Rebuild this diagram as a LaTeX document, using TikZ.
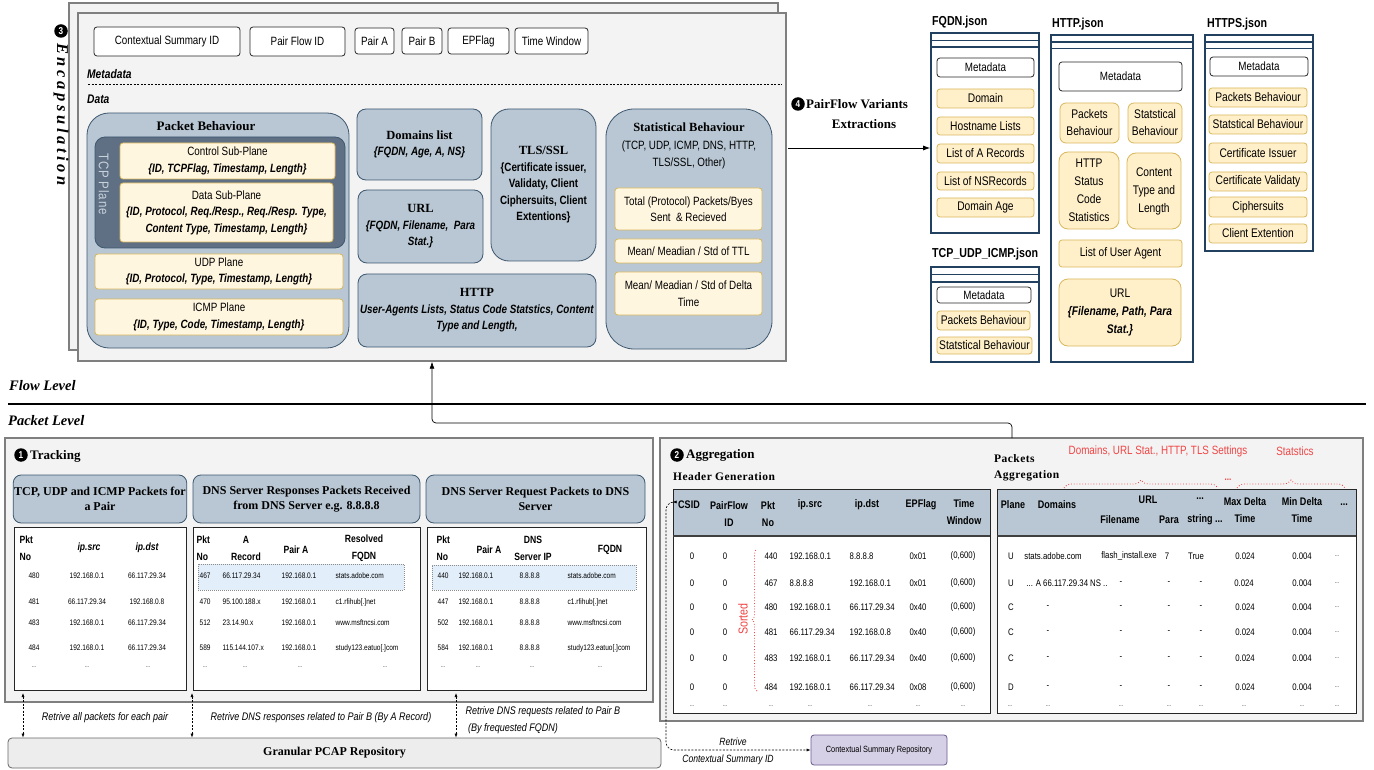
\documentclass[tikz,border=0pt]{standalone}
\usepackage{fontspec}
\setmainfont{Liberation Serif}
\setsansfont{Liberation Sans}[FakeStretch=0.82]
\usetikzlibrary{arrows.meta,decorations.pathreplacing}
\definecolor{panelF}{HTML}{F3F3F3}
\definecolor{panelD}{HTML}{7F7F7F}
\definecolor{blueF}{HTML}{B8C7D3}
\definecolor{blueD}{HTML}{3E5870}
\definecolor{tcpF}{HTML}{5F7084}
\definecolor{tcpT}{HTML}{C9D1DC}
\definecolor{yelF}{HTML}{FFF6E0}
\definecolor{yelD}{HTML}{D9B75B}
\definecolor{yelG}{HTML}{FFF0CA}
\definecolor{jsonD}{HTML}{22405F}
\definecolor{csrF}{HTML}{D6D0E6}
\definecolor{csrD}{HTML}{6B5B8F}
\definecolor{hlF}{HTML}{E2EEFA}
\definecolor{redT}{HTML}{F04545}
\definecolor{granF}{HTML}{EDEDED}
\newcommand\BI[1]{\textbf{\textit{#1}}}
\newcommand\HD[1]{{\rmfamily\bfseries #1}}
\newcommand\FS[2]{\fontsize{#1}{#2}\selectfont}
\newcommand\Bx[8][]{%
  \pgfmathsetmacro\bxw{#6-#4}%
  \pgfmathsetmacro\bxh{#7-#5}%
  \node[#2, minimum width=\bxw pt, minimum height=\bxh pt, #1] (#3) at ({(#4+#6)/2},{(#5+#7)/2}) {#8};%
}
\tikzset{
  base/.style={font=\sffamily\FS{12}{16.5}, align=center, inner sep=1pt},
  panel/.style={draw=panelD, fill=panelF, line width=1.4pt},
  mbox/.style={base, draw=black!85, fill=white, rounded corners=3pt, line width=0.8pt},
  bluebox/.style={base, draw=blueD, fill=blueF, rounded corners=9pt, line width=0.8pt},
  ybox/.style={base, draw=yelD, fill=yelF, rounded corners=3pt, line width=0.8pt},
  jy/.style={base, font=\sffamily\FS{12.5}{17}, draw=yelD, fill=yelG, rounded corners=3pt, line width=0.8pt},
  jbox/.style={draw=jsonD, fill=white, line width=1.6pt},
  tbl/.style={draw=black!85, fill=white, line width=0.9pt},
  hdr/.style={font=\rmfamily\bfseries\FS{12}{15}, align=center, inner sep=1pt},
  th/.style={font=\sffamily\bfseries\FS{10.5}{17}, align=center, inner sep=0.5pt},
  td/.style={font=\sffamily\FS{8}{10}, inner sep=0.5pt},
  ah/.style={font=\sffamily\bfseries\FS{11}{17}, align=center, inner sep=0.5pt},
  ad/.style={font=\sffamily\FS{9.5}{11}, inner sep=0.5pt},
  num/.style={circle, fill=black, text=white, font=\sffamily\bfseries\FS{10}{10}, inner sep=0pt, minimum size=13.5pt},
  lbl/.style={font=\sffamily\bfseries\itshape\FS{12.5}{14}, anchor=west, inner sep=0pt},
  note/.style={font=\sffamily\itshape\FS{11}{16}, inner sep=0.5pt},
  rnote/.style={font=\sffamily\FS{12}{14}, text=redT, inner sep=0.5pt},
  arr/.style={-{Latex[length=7pt,width=5pt]}, line width=0.8pt},
  hl/.style={fill=hlF, draw=black!45, dash pattern=on 1pt off 1pt, line width=0.5pt},
}
\begin{document}
\begin{tikzpicture}[x=1pt,y=-1pt]
\useasboundingbox (0,0) rectangle (1374,770);

% ===== Encapsulation panel =====
\Bx{panel}{backP}{69}{3}{778}{350}{}
\Bx{panel}{front}{78}{13}{786}{361}{}
\node[num] (n3) at (61,31) {3};
\node[rotate=-90, anchor=west, font=\rmfamily\bfseries\itshape\FS{16.5}{16}\addfontfeature{LetterSpace=22}, inner sep=0pt] (encL) at (61,43) {Encapsulation};

\Bx{mbox}{m1}{94}{27}{240}{56}{Contextual Summary ID}
\Bx{mbox}{m2}{250}{27}{345}{56}{Pair Flow ID}
\Bx{mbox}{m3}{355}{28}{394}{54}{Pair A}
\Bx{mbox}{m4}{402}{28}{442}{54}{Pair B}
\Bx{mbox}{m5}{448}{28}{509}{54}{EPFlag}
\Bx{mbox}{m6}{515}{28}{588}{54}{Time Window}
\node[lbl] (mdL) at (87,74) {Metadata};
\coordinate (ds1) at (88,84);
\coordinate (ds2) at (782,84);
\draw[dash pattern=on 2pt off 1.5pt, line width=0.8pt] (ds1) -- (ds2);
\node[lbl] (dtL) at (87,99) {Data};

% Packet behaviour
\Bx{bluebox, rounded corners=22pt}{pb}{87}{113}{349}{348}{}
\node[hdr, font=\rmfamily\bfseries\FS{13}{15}] (pbT) at (206,126) {Packet Behaviour};
\Bx{bluebox, fill=tcpF, rounded corners=10pt}{tcpP}{95}{137}{345}{248}{}
\node[rotate=-90, text=tcpT, font=\sffamily\FS{14}{14}\addfontfeature{LetterSpace=6}, inner sep=0pt] (tcpL) at (104,184) {TCP Plane};
\Bx{ybox}{csp}{120}{143}{335}{179}{Control Sub-Plane\\ \BI{\{ID, TCPFlag, Timestamp, Length\}}}
\Bx{ybox}{dsp}{120}{183}{333}{242}{Data Sub-Plane\\ \BI{\{ID, Protocol, Req./Resp., Req./Resp. Type,}\\ \BI{Content Type, Timestamp, Length\}}}
\Bx{ybox}{udp}{95}{254}{343}{289}{UDP Plane\\ \BI{\{ID, Protocol, Type, Timestamp, Length\}}}
\Bx{ybox}{icmp}{95}{299}{343}{335}{ICMP Plane\\ \BI{\{ID, Type, Code, Timestamp, Length\}}}

% Middle
\Bx{bluebox}{dom}{357}{109}{482}{180}{\HD{\FS{12.5}{16.5}Domains list}\\ \BI{\{FQDN, Age, A, NS\}}}
\Bx{bluebox}{url}{358}{190}{483}{263}{\HD{\FS{12.5}{16.5}URL}\\ \BI{\{FQDN, Filename,\ \ Para}\\ \BI{Stat.\}}}
\Bx{bluebox, rounded corners=18pt}{tls}{491}{109}{596}{261}{\HD{\FS{12.5}{16.5}TLS/SSL}\\ \textbf{\{Certificate issuer,}\\ \textbf{Validaty, Client}\\ \textbf{Ciphersuits, Client}\\ \textbf{Extentions\}}}
\Bx{bluebox}{http}{358}{274}{596}{347}{\HD{\FS{12.5}{16.5}HTTP}\\ \BI{User-Agents Lists, Status Code Statstics, Content}\\ \BI{Type and Length,}}
\Bx{bluebox, rounded corners=28pt}{stat}{606}{109}{772}{349}{}
\node[base, font=\sffamily\FS{12}{17.5}] (stT) at (689,146) {\HD{\FS{12.5}{17.5}Statistical Behaviour}\\(TCP, UDP, ICMP, DNS, HTTP,\\TLS/SSL, Other)};
\Bx{ybox}{st1}{615}{188}{762}{230}{Total (Protocol) Packets/Byes\\ Sent \ \& Recieved}
\Bx{ybox}{st2}{615}{239}{762}{263}{Mean/ Meadian / Std of TTL}
\Bx{ybox}{st3}{615}{272}{762}{315}{Mean/ Meadian / Std of Delta\\ Time}

% ===== Step 4 arrow =====
\coordinate (a4) at (788,148);
\node[num] (n4) at (798,104) {4};
\node[hdr, font=\rmfamily\bfseries\FS{13}{15}, anchor=west] (v4a) at (805,104) {PairFlow Variants};
\node[hdr, font=\rmfamily\bfseries\FS{13}{15}] (v4b) at (864,124) {Extractions};

% ===== JSON files =====
\node[font=\sffamily\bfseries\FS{13}{14}, anchor=west, inner sep=0pt] (fqT) at (932,22) {FQDN.json};
\Bx{jbox}{fq}{931}{33}{1039}{233}{}
\draw[jsonD, line width=1.6pt] (931,40.5) -- (1039,40.5) (931,47) -- (1039,47);
\Bx{mbox}{fq0}{937}{58}{1034}{77}{Metadata}
\Bx{jy}{fq1}{937}{89}{1034}{108}{Domain}
\Bx{jy}{fq2}{937}{117}{1034}{135}{Hostname Lists}
\Bx{jy}{fq3}{937}{144}{1034}{163}{List of A Records}
\Bx{jy}{fq4}{937}{172}{1034}{190}{List of NSRecords}
\Bx{jy}{fq5}{937}{198}{1034}{217}{Domain Age}
\draw[arr] (a4) -- (a4 -| fq.west);

\node[font=\sffamily\bfseries\FS{13}{14}, anchor=west, inner sep=0pt] (tuT) at (932,254) {TCP\_UDP\_ICMP.json};
\Bx{jbox}{tu}{931}{267}{1039}{362}{}
\draw[jsonD, line width=1.6pt] (931,274.5) -- (1039,274.5) (931,282) -- (1039,282);
\Bx{mbox}{tu0}{937}{287}{1031}{303}{Metadata}
\Bx{jy}{tu1}{937}{311}{1030}{330}{Packets Behaviour}
\Bx{jy}{tu2}{937}{337}{1032}{354}{Statstical Behaviour}

\node[font=\sffamily\bfseries\FS{13}{14}, anchor=west, inner sep=0pt] (htT) at (1052,24) {HTTP.json};
\Bx{jbox}{ht}{1051}{35}{1193}{362}{}
\draw[jsonD, line width=1.6pt] (1051,42) -- (1193,42) (1051,48.5) -- (1193,48.5);
\Bx{mbox}{ht0}{1059}{62}{1182}{91}{Metadata}
\Bx{jy, rounded corners=6pt}{ht1}{1060}{103}{1119}{143}{Packets\\Behaviour}
\Bx{jy, rounded corners=6pt}{ht2}{1128}{103}{1182}{143}{Statstical\\Behaviour}
\Bx{jy, rounded corners=9pt, font=\sffamily\FS{12.5}{18}}{ht3}{1059}{152}{1119}{229}{HTTP\\Status\\Code\\Statistics}
\Bx{jy, rounded corners=9pt, font=\sffamily\FS{12.5}{18}}{ht4}{1127}{153}{1181}{229}{Content\\Type and\\Length}
\Bx{jy}{ht5}{1059}{240}{1182}{267}{List of User Agent}
\Bx{jy, rounded corners=9pt, font=\sffamily\FS{12.5}{18}}{ht6}{1059}{279}{1181}{346}{URL\\ \BI{\{Filename, Path, Para}\\ \BI{Stat.\}}}

\node[font=\sffamily\bfseries\FS{13}{14}, anchor=west, inner sep=0pt] (hsT) at (1207,24) {HTTPS.json};
\Bx{jbox}{hs}{1205}{35}{1313}{251}{}
\draw[jsonD, line width=1.6pt] (1205,42) -- (1313,42) (1205,48.5) -- (1313,48.5);
\Bx{mbox}{hs0}{1210}{57}{1308}{76}{Metadata}
\Bx{jy}{hs1}{1209}{88}{1307}{107}{Packets Behaviour}
\Bx{jy}{hs2}{1209}{115}{1307}{134}{Statstical Behaviour}
\Bx{jy}{hs3}{1209}{143}{1307}{163}{Certificate Issuer}
\Bx{jy}{hs4}{1209}{172}{1307}{191}{Certificate Validaty}
\Bx{jy}{hs5}{1209}{197}{1307}{217}{Ciphersuits}
\Bx{jy}{hs6}{1209}{224}{1307}{243}{Client Extention}

% ===== Levels =====
\node[font=\rmfamily\bfseries\itshape\FS{14.5}{16}, anchor=west, inner sep=0pt] (flowL) at (9,386) {Flow Level};
\coordinate (lv1) at (8,404);
\coordinate (lv2) at (1366,404);
\draw[line width=1.3pt] (lv1) -- (lv2);
\node[font=\rmfamily\bfseries\itshape\FS{14.5}{16}, anchor=west, inner sep=0pt] (pktL) at (8,421) {Packet Level};

% ===== Tracking =====
\Bx{panel}{trk}{5}{438}{653}{702}{}
\node[num] (n1) at (21,455) {1};
\node[hdr, font=\rmfamily\bfseries\FS{13}{15}, anchor=west] (trkT) at (29,456) {Tracking};
\Bx{bluebox, hdr, rounded corners=8pt}{h1}{14}{475}{186}{523}{TCP, UDP and ICMP Packets for\\a Pair}
\Bx{bluebox, hdr, rounded corners=8pt}{h2}{193}{475}{420}{523}{DNS Server Responses Packets Received\\from DNS Server e.g. 8.8.8.8}
\Bx{bluebox, hdr, rounded corners=8pt}{h3}{426}{475}{645}{523}{DNS Server Request Packets to DNS\\Server}

% table 1
\Bx{tbl}{t1}{14}{527}{186}{690}{}
\node[th, anchor=west, align=left] (t1h1) at (19,548) {Pkt\\No};
\node[th, font=\sffamily\bfseries\itshape\FS{10.5}{12}] (t1h2) at (89,548) {ip.src};
\node[th, font=\sffamily\bfseries\itshape\FS{10.5}{12}] (t1h3) at (147,548) {ip.dst};
\foreach \r/\yy/\a/\b/\c in {1/576/480/192.168.0.1/66.117.29.34, 2/602/481/66.117.29.34/192.168.0.8, 3/623/483/192.168.0.1/66.117.29.34, 4/648/484/192.168.0.1/66.117.29.34}{
  \node[td] (t1-\r-1) at (34,\yy) {\a};
  \node[td] (t1-\r-2) at (87,\yy) {\b};
  \node[td] (t1-\r-3) at (147,\yy) {\c};
}
\foreach \xx [count=\i] in {34,87,148}{\node[td, font=\sffamily\FS{6}{6}] (t1-5-\i) at (\xx,667) {...};}

% table 2
\Bx{tbl}{t2}{193}{527}{420}{690}{}
\Bx{hl}{t2hl}{198}{564}{404}{590}{}
\node[th, anchor=west, align=left] (t2h1) at (196,548) {Pkt\\No};
\node[th] (t2h2) at (246,548) {A\\Record};
\node[th] (t2h3) at (296,550) {Pair A};
\node[th] (t2h4) at (364,548) {Resolved\\FQDN};
\foreach \r/\yy/\a/\b/\c in {1/576/467/66.117.29.34/stats.adobe.com, 2/602/470/95.100.188.x/c1.rfihub[.]net, 3/623/512/23.14.90.x/www.msftncsi.com, 4/648/589/115.144.107.x/study123.eatuo[.]com}{
  \node[td, anchor=west] (t2-\r-1) at (199,\yy) {\a};
  \node[td, anchor=west] (t2-\r-2) at (222,\yy) {\b};
  \node[td, anchor=west] (t2-\r-3) at (281,\yy) {192.168.0.1};
  \node[td, anchor=west] (t2-\r-4) at (335,\yy) {\c};
}
\foreach \xx [count=\i] in {205,245,300,385}{\node[td, font=\sffamily\FS{6}{6}] (t2-5-\i) at (\xx,667) {...};}

% table 3
\Bx{tbl}{t3}{427}{527}{646}{690}{}
\Bx{hl}{t3hl}{432}{565}{636}{590}{}
\node[th, anchor=west, align=left] (t3h1) at (436,548) {Pkt\\No};
\node[th] (t3h2) at (489,550) {Pair A};
\node[th] (t3h3) at (533,548) {DNS\\Server IP};
\node[th] (t3h4) at (610,550) {FQDN};
\foreach \r/\yy/\a/\c in {1/576/440/stats.adobe.com, 2/602/447/c1.rfihub[.]net, 3/623/502/www.msftncsi.com, 4/648/584/study123.eatuo[.]com}{
  \node[td, anchor=west] (t3-\r-1) at (437,\yy) {\a};
  \node[td, anchor=west] (t3-\r-2) at (458,\yy) {192.168.0.1};
  \node[td, anchor=west] (t3-\r-3) at (519,\yy) {8.8.8.8};
  \node[td, anchor=west] (t3-\r-4) at (567,\yy) {\c};
}
\foreach \xx [count=\i] in {443,478,532,600}{\node[td, font=\sffamily\FS{6}{6}] (t3-5-\i) at (\xx,667) {...};}

% ===== Repository =====
\Bx{hdr, draw=black!60, fill=granF, rounded corners=4pt, line width=0.8pt}{gpr}{8}{738}{661}{768}{Granular PCAP Repository}
\foreach \xx [count=\i] in {23,192,456}{
  \coordinate (dA\i) at (\xx,693);
  \draw[dash pattern=on 2pt off 1.5pt, line width=0.6pt, {Latex[length=4pt,width=3pt]}-{Latex[length=4pt,width=3pt]}] (dA\i) -- (dA\i |- gpr.north);
}
\node[note] (r1) at (105,718) {Retrive all packets for each pair};
\node[note] (r2) at (321,718) {Retrive DNS responses related to Pair B (By A Record)};
\node[note, anchor=west, align=left, font=\sffamily\itshape\FS{11}{17}] (r3) at (465,720) {Retrive DNS requests related to Pair B\\ \ (By frequested FQDN)};

% ===== Aggregation =====
\Bx{panel}{agg}{660}{438}{1363}{721}{}
\node[num] (n2) at (677,455) {2};
\node[hdr, font=\rmfamily\bfseries\FS{13}{15}, anchor=west] (aggT) at (685,455) {Aggregation};
\node[hdr, font=\rmfamily\bfseries\FS{11.5}{14}\addfontfeature{LetterSpace=4}, anchor=west] (hgL) at (672,477) {Header Generation};
\node[hdr, font=\rmfamily\bfseries\FS{11.5}{16}\addfontfeature{LetterSpace=4}, anchor=west, align=left] (paL) at (993,468) {Packets\\Aggregation};

% header generation table
\Bx{tbl}{hg}{673}{489}{990}{713}{}
\fill[blueF] (673,489) rectangle (990,536);
\draw[line width=0.9pt, black!85] (673,489) rectangle (990,713);
\draw[line width=1.2pt, black!75] (673,536) -- (990,536);
\node[ah] (hgh1) at (689,505) {CSID};
\node[ah] (hgh2) at (729,514) {PairFlow\\ID};
\node[ah] (hgh3) at (768,514) {Pkt\\No};
\node[ah] (hgh4) at (810,505) {ip.src};
\node[ah] (hgh5) at (867,505) {ip.dst};
\node[ah] (hgh6) at (921,505) {EPFlag};
\node[ah] (hgh7) at (964,512) {Time\\Window};
\foreach \r/\yy/\p/\s/\d/\f in {1/556/440/192.168.0.1/8.8.8.8/0x01, 2/583/467/8.8.8.8/192.168.0.1/0x01, 3/607/480/192.168.0.1/66.117.29.34/0x40, 4/632/481/66.117.29.34/192.168.0.8/0x40, 5/658/483/192.168.0.1/66.117.29.34/0x40, 6/687/484/192.168.0.1/66.117.29.34/0x08}{
  \node[ad] (hg-\r-1) at (692,\yy) {0};
  \node[ad] (hg-\r-2) at (725,\yy) {0};
  \node[ad] (hg-\r-3) at (771,\yy) {\p};
  \node[ad, anchor=west] (hg-\r-4) at (789,\yy) {\s};
  \node[ad, anchor=west] (hg-\r-5) at (849,\yy) {\d};
  \node[ad] (hg-\r-6) at (918,\yy) {\f};
  \node[ad] (hg-\r-7) at (963,\yy) {(0,600)};
}
\foreach \xx [count=\i] in {692,725,771,810,870,918,963}{\node[ad, font=\sffamily\FS{6}{6}] (hg-7-\i) at (\xx,706) {...};}
\node[rotate=90, text=redT, font=\sffamily\FS{13}{13}, inner sep=0pt] (sortL) at (743,619) {Sorted};
\coordinate (br1) at (757,691);
\coordinate (br2) at (757,549);
\draw[redT, dotted, line width=0.8pt, decorate, decoration={brace, amplitude=5pt}] (br1) -- (br2);

% packets aggregation table
\Bx{tbl}{pa}{997}{489}{1356}{713}{}
\fill[blueF] (997,489) rectangle (1356,536);
\draw[line width=0.9pt, black!85] (997,489) rectangle (1356,713);
\draw[line width=1.2pt, black!75] (997,536) -- (1356,536);
\node[ah] (pah1) at (1013,505) {Plane};
\node[ah] (pah2) at (1057,505) {Domains};
\node[ah] (pah3) at (1148,500) {URL};
\node[ah] (pah4) at (1120,520) {Filename};
\node[ah] (pah5) at (1169,520) {Para};
\node[ah] (pah6) at (1200,499) {...};
\node[ah] (pah7) at (1205,520) {string ...};
\node[ah] (pah8) at (1245,510) {Max Delta\\Time};
\node[ah] (pah9) at (1302,510) {Min Delta\\Time};
\node[ah] (pah10) at (1344,505) {...};
\foreach \r/\yy/\p/\dm in {3/607/C/-, 4/632/C/-, 5/658/C/-, 6/687/D/-}{
  \node[ad] (pa-\r-1) at (1011,\yy) {\p};
  \node[ad] (pa-\r-2) at (1048,\yy) {\dm};
  \node[ad] (pa-\r-3) at (1121,\yy) {-};
  \node[ad] (pa-\r-4) at (1169,\yy) {-};
  \node[ad] (pa-\r-5) at (1201,\yy) {-};
  \node[ad] (pa-\r-6) at (1245,\yy) {0.024};
  \node[ad] (pa-\r-7) at (1302,\yy) {0.004};
  \node[ad, font=\sffamily\FS{6}{6}] (pa-\r-8) at (1337,\yy) {...};
}
\node[ad] (pa-1-1) at (1011,556) {U};
\node[ad] (pa-1-2) at (1053,556) {stats.adobe.com};
\node[ad] (pa-1-3) at (1129,556) {flash\_install.exe};
\node[ad] (pa-1-4) at (1167,556) {7};
\node[ad] (pa-1-5) at (1196,556) {True};
\node[ad] (pa-1-6) at (1245,556) {0.024};
\node[ad] (pa-1-7) at (1302,556) {0.004};
\node[ad, font=\sffamily\FS{6}{6}] (pa-1-8) at (1337,556) {...};
\node[ad] (pa-2-1) at (1011,583) {U};
\node[ad] (pa-2-2) at (1067,583) {... A 66.117.29.34 NS ..};
\node[ad] (pa-2-3) at (1121,583) {-};
\node[ad] (pa-2-4) at (1169,583) {-};
\node[ad] (pa-2-5) at (1201,583) {-};
\node[ad] (pa-2-6) at (1244,583) {0.024};
\node[ad] (pa-2-7) at (1302,583) {0.004};
\node[ad, font=\sffamily\FS{6}{6}] (pa-2-8) at (1337,583) {...};
\foreach \xx [count=\i] in {1010,1048,1121,1169,1201,1244,1302,1337}{\node[ad, font=\sffamily\FS{6}{6}] (pa-7-\i) at (\xx,706) {...};}

% red annotations
\node[rnote] (ra1) at (1158,451) {Domains, URL Stat., HTTP, TLS Settings};
\node[rnote] (ra2) at (1295,451) {Statstics};
\node[rnote, font=\sffamily\bfseries\FS{10}{10}] (ra3) at (1228,480) {...};
\coordinate (bA1) at (1064,488);
\coordinate (bA2) at (1218,488);
\coordinate (bB1) at (1237,488);
\coordinate (bB2) at (1345,488);
\draw[redT, dotted, line width=0.8pt, decorate, decoration={brace, amplitude=8pt}] (bA1) -- (bA2);
\draw[redT, dotted, line width=0.8pt, decorate, decoration={brace, amplitude=8pt}] (bB1) -- (bB2);

% ===== Contextual summary repository =====
\Bx{base, font=\sffamily\FS{9}{10}, draw=csrD, fill=csrF, rounded corners=3pt, line width=0.8pt}{csr}{811}{735}{947}{765}{Contextual Summary Repository}
\coordinate (csA) at (666,502);
\coordinate (csB) at (666,750);
\draw[dash pattern=on 2pt off 1.5pt, line width=0.6pt, rounded corners=8pt, {Latex[length=4pt,width=3pt]}-{Latex[length=4pt,width=3pt]}] (hg.west |- csA) -- (csA) -- (csB) -- (csr.west);
\node[note, font=\sffamily\itshape\FS{10.5}{12}] (rc1) at (733,742) {Retrive};
\node[note, font=\sffamily\itshape\FS{10.5}{12}] (rc2) at (728,760) {Contextual Summary ID};

% ===== Aggregation to encapsulation =====
\coordinate (up1) at (1012,438);
\coordinate (up2) at (432,423);
\draw[arr, line width=0.7pt, rounded corners=4pt] (up1) |- (up2) -- (up2 |- front.south);
\end{tikzpicture}
\end{document}
